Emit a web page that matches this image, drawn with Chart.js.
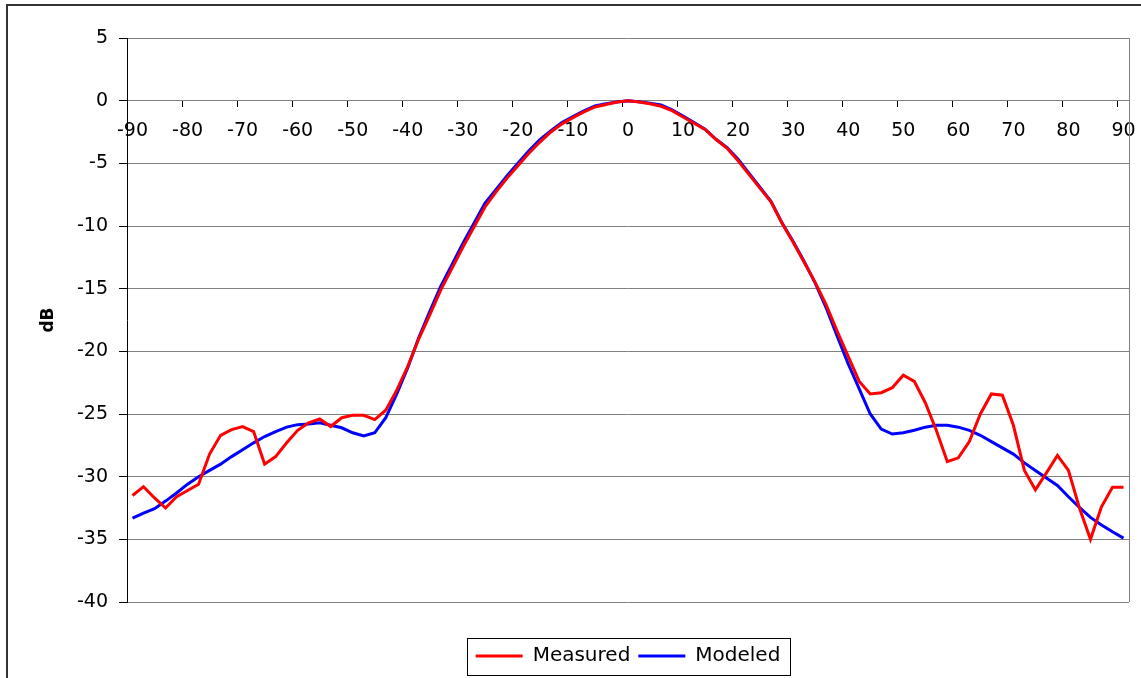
<!DOCTYPE html>
<html>
<head>
<meta charset="utf-8">
<script src="https://cdn.jsdelivr.net/npm/chart.js@4.4.0/dist/chart.umd.min.js"></script>
<style>
  body { margin: 0; background: #fff; overflow: hidden; }
  #wrap { position: relative; width: 1141px; height: 678px; }
  #frame { position: absolute; left: 6px; top: 4px; width: 1200px; height: 700px;
           border-left: 2px solid #333; border-top: 2px solid #333; pointer-events: none; }
</style>
</head>
<body>
<div id="wrap">
  <canvas id="beamChart" width="1141" height="678"></canvas>
  <div id="frame"></div>
</div>
<script>
// angle categories, 2 degree steps
const angles = [
  -90, -88, -86, -84, -82, -80, -78, -76, -74, -72,
  -70, -68, -66, -64, -62, -60, -58, -56, -54, -52,
  -50, -48, -46, -44, -42, -40, -38, -36, -34, -32,
  -30, -28, -26, -24, -22, -20, -18, -16, -14, -12,
  -10, -8, -6, -4, -2, 0, 2, 4, 6, 8,
  10, 12, 14, 16, 18, 20, 22, 24, 26, 28,
  30, 32, 34, 36, 38, 40, 42, 44, 46, 48,
  50, 52, 54, 56, 58, 60, 62, 64, 66, 68,
  70, 72, 74, 76, 78, 80, 82, 84, 86, 88,
  90
];

const measured = [
  -31.5, -30.8, -31.7, -32.5, -31.6, -31.1, -30.6, -28.2, -26.7, -26.25,
  -26.0, -26.4, -29.0, -28.4, -27.3, -26.3, -25.7, -25.4, -26.0, -25.3,
  -25.1, -25.1, -25.45, -24.7, -23.1, -21.2, -19.0, -17.1, -15.1, -13.4,
  -11.7, -10.1, -8.5, -7.3, -6.2, -5.2, -4.2, -3.3, -2.5, -1.85,
  -1.35, -0.9, -0.5, -0.3, -0.1, 0, -0.1, -0.25, -0.45, -0.8,
  -1.3, -1.8, -2.3, -3.1, -3.8, -4.8, -5.9, -7.0, -8.1, -9.8,
  -11.3, -12.9, -14.5, -16.3, -18.4, -20.4, -22.4, -23.4, -23.3, -22.9,
  -21.9, -22.4, -24.1, -26.3, -28.8, -28.5, -27.2, -25.0, -23.4, -23.5,
  -25.9, -29.5, -31.05, -29.7, -28.3, -29.5, -32.5, -35.0, -32.4, -30.85,
  -30.85
];

const modeled = [
  -33.3, -32.9, -32.55, -31.95, -31.3, -30.6, -30.0, -29.5, -29.0, -28.4,
  -27.85, -27.3, -26.8, -26.4, -26.05, -25.85, -25.8, -25.7, -25.9, -26.1,
  -26.5, -26.75, -26.5, -25.3, -23.4, -21.3, -18.9, -16.8, -14.8, -13.1,
  -11.4, -9.8, -8.2, -7.1, -6.0, -5.0, -4.0, -3.1, -2.4, -1.75,
  -1.27, -0.82, -0.42, -0.24, -0.1, 0, -0.08, -0.2, -0.35, -0.74,
  -1.22, -1.75, -2.28, -3.08, -3.74, -4.67, -5.8, -6.93, -8.05, -9.77,
  -11.23, -12.83, -14.55, -16.54, -18.8, -21.0, -23.0, -25.0, -26.2, -26.6,
  -26.5, -26.3, -26.05, -25.9, -25.9, -26.05, -26.3, -26.7, -27.2, -27.7,
  -28.2, -28.9, -29.5, -30.1, -30.7, -31.6, -32.45, -33.25, -33.85, -34.4,
  -34.9
];

// labels shown on the x axis
const xTickLabels = [-90, -80, -70, -60, -50, -40, -30, -20, -10, 0, 10, 20, 30, 40, 50, 60, 70, 80, 90];
const yMin = -40, yMax = 5, yStep = 5;

const FONT = "'DejaVu Sans', sans-serif";

// right edge of the plot area and frame round the legend
const plotEdge = {
    id: 'plotEdge',
    beforeDatasetsDraw(chart) {
        const a = chart.chartArea, ctx = chart.ctx;
        ctx.save();
        ctx.strokeStyle = '#808080';
        ctx.lineWidth = 1;
        ctx.beginPath();
        ctx.moveTo(Math.round(a.right) + 0.5, a.top);
        ctx.lineTo(Math.round(a.right) + 0.5, a.bottom);
        ctx.stroke();
        ctx.restore();
    }
};

const legendFrame = {
    id: 'legendFrame',
    afterLayout(chart) {
        // push the legend down below the gap under the plot
        chart.legend.top += 36;
        chart.legend.bottom += 36;
    },
    afterDraw(chart) {
        const lg = chart.legend, boxes = lg.legendHitBoxes;
        if (!boxes || !boxes.length) return;
        let l = Infinity, r = -Infinity;
        boxes.forEach(b => { l = Math.min(l, b.left); r = Math.max(r, b.left + b.width); });
        const ctx = chart.ctx;
        ctx.save();
        ctx.strokeStyle = '#000';
        ctx.lineWidth = 1;
        ctx.strokeRect(Math.round(l - 9) + 0.5, Math.round(lg.top) + 0.5, Math.round(r - l + 18), Math.round(lg.height - 1));
        ctx.restore();
    }
};

var ctx = document.getElementById('beamChart').getContext('2d');
var chart = new Chart(ctx, {
    type: 'line',
    data: {
        labels: angles,
        datasets: [{
            label: 'Measured',
            data: measured,
            borderColor: '#ff0000',
            backgroundColor: '#ff0000',
            borderWidth: 3,
            pointRadius: 0,
            tension: 0
        }, {
            label: 'Modeled',
            data: modeled,
            borderColor: '#0000ff',
            backgroundColor: '#0000ff',
            borderWidth: 3,
            pointRadius: 0,
            tension: 0
        }]
    },
    options: {
        responsive: false,
        animation: false,
        layout: { padding: { left: 0, top: 38, right: 12, bottom: 38 } },
        scales: {
            x: {
                type: 'category',
                position: { y: 0 },
                offset: true,
                afterFit: function (scale) {
                    scale.height = 0;
                    scale.paddingLeft = 0;
                    scale.paddingRight = 0;
                },
                grid: {
                    offset: true,
                    drawOnChartArea: false,
                    tickLength: 6,
                    tickColor: function (c) { return c.index % 5 === 0 ? '#000' : 'rgba(0,0,0,0)'; },
                    color: 'rgba(0,0,0,0)'
                },
                border: { color: '#808080', width: 1 },
                ticks: {
                    autoSkip: false,
                    maxRotation: 0,
                    padding: 13,
                    color: '#000',
                    font: { family: FONT, size: 19 },
                    callback: function (val, index) {
                        const a = angles[index];
                        return xTickLabels.indexOf(a) >= 0 ? String(a) : '';
                    }
                }
            },
            y: {
                min: yMin,
                max: yMax,
                afterFit: function (scale) { scale.width = 127; },
                grid: { color: '#808080', tickColor: '#000', tickLength: 8, lineWidth: 1 },
                border: { color: '#000', width: 1 },
                ticks: {
                    stepSize: yStep,
                    padding: 11,
                    color: '#000',
                    font: { family: FONT, size: 19 }
                },
                title: {
                    display: true,
                    text: 'dB',
                    color: '#000',
                    padding: { top: 38, bottom: 0 },
                    font: { family: FONT, size: 17, weight: 'bold' }
                }
            }
        },
        plugins: {
            tooltip: { enabled: false },
            legend: {
                position: 'bottom',
                fullSize: false,
                labels: {
                    boxWidth: 47,
                    boxHeight: 3,
                    padding: 8,
                    color: '#000',
                    font: { family: FONT, size: 20 },
                    generateLabels: function (chart) {
                        return Chart.defaults.plugins.legend.labels.generateLabels(chart)
                            .map(function (item) { item.lineWidth = 0; return item; });
                    }
                }
            }
        }
    },
    plugins: [plotEdge, legendFrame]
});
</script>
</body>
</html>
